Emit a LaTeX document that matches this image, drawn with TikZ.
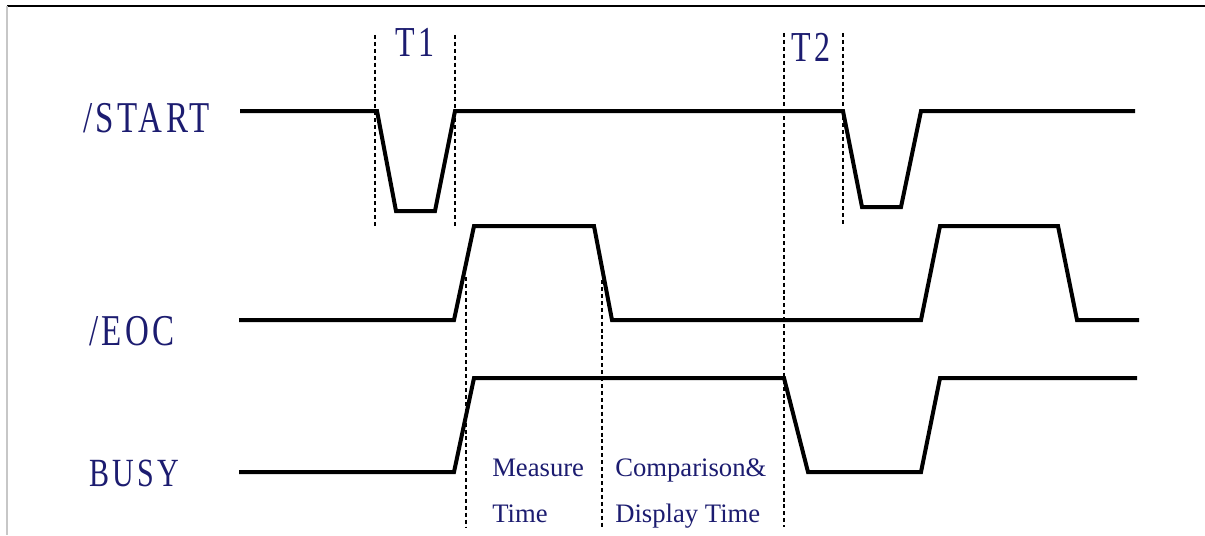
\documentclass[tikz,border=0pt]{standalone}
\usepackage{fontspec}
\setmainfont{Liberation Serif}
\newfontfamily\sigfont[FakeStretch=0.75,LetterSpace=8]{Liberation Serif}
\definecolor{navy}{RGB}{28,28,112}
\begin{document}
\begin{tikzpicture}[x=0.75pt,y=-0.75pt,
  wave/.style={line width=3pt,black},
  guide/.style={line width=0.9pt,black,dash pattern=on 3pt off 2.2pt},
  siglabel/.style={anchor=base west,inner sep=0pt,text=navy,font=\sigfont\fontsize{33}{33}\selectfont},
  busylabel/.style={anchor=base west,inner sep=0pt,text=navy,font=\sigfont\fontsize{30}{30}\selectfont},
  tlabel/.style={anchor=base west,inner sep=0pt,text=navy,font=\sigfont\fontsize{32}{32}\selectfont},
  note/.style={anchor=base west,inner sep=0pt,text=navy,font=\fontsize{20}{20}\selectfont}]
\useasboundingbox (0,0) rectangle (1205,535);
\fill[white] (0,0) rectangle (1205,535);
% frame
\draw[line width=1.6pt,black] (7,6) -- (1205,6);
\draw[line width=1.5pt,black!22] (7,6) -- (7,535);
% guide lines
\draw[guide] (375,35) -- (375,227);
\draw[guide] (455,35) -- (455,227);
\draw[guide] (466,277) -- (466,527);
\draw[guide] (602,280) -- (602,527);
\draw[guide] (784,33) -- (784,527);
\draw[guide] (843,33) -- (843,227);
% waveforms
\draw[wave] (240,111) -- (377,111) -- (396,211) -- (435,211) -- (455,111) -- (843,111) -- (862,207) -- (901,207) -- (921,111) -- (1135,111);
\draw[wave] (239,320) -- (454,320) -- (474,226) -- (594,226) -- (612,320) -- (921,320) -- (940,226) -- (1058,226) -- (1077,320) -- (1139,320);
\draw[wave] (239,472) -- (454,472) -- (474,378) -- (784,378) -- (808,472) -- (921,472) -- (940,378) -- (1137,378);
% labels
\node[siglabel] (start) at (83,132) {/START};
\node[siglabel] (eoc) at (89,345) {/EOC};
\node[busylabel] (busy) at (89,486) {BUSY};
\node[tlabel] (t1) at (395,57) {T1};
\node[tlabel] (t2) at (791,61) {T2};
\node[note] (m1) at (492,476) {Measure};
\node[note] (m2) at (492,522) {Time};
\node[note] (c1) at (615,476) {Comparison\&};
\node[note] (c2) at (615,522) {Display Time};
\end{tikzpicture}
\end{document}
